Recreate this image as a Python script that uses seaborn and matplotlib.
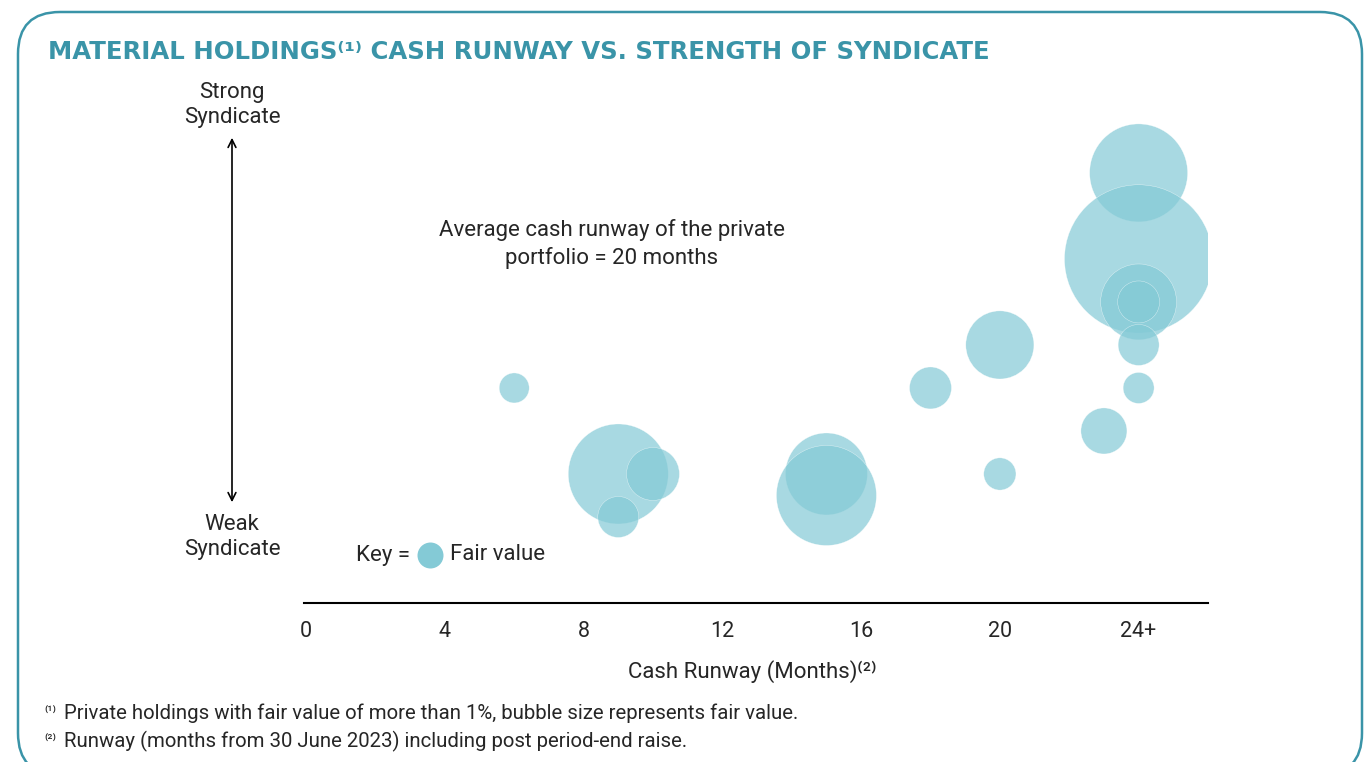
# Material holdings: cash runway vs strength of syndicate (bubble chart)
import pandas as pd
import matplotlib.pyplot as plt
import seaborn as sns
from matplotlib.patches import FancyArrowPatch, FancyBboxPatch
from matplotlib.transforms import IdentityTransform

# -------- DATA --------
runway_months = [24, 24, 24, 24, 24, 24, 23, 20, 18, 20, 6, 9, 10, 9, 15, 15]
syndicate_strength = [8, 6, 5, 5, 4, 3, 2, 4, 3, 1, 3, 1, 1, 0, 1, 0.5]
fair_value = [24, 55, 14.4, 4.4, 4.2, 2.4, 5.3, 11.6, 4.4, 2.6, 2.25, 25, 7.0, 4.2, 16.8, 25]

tick_values = [0, 4, 8, 12, 16, 20, 24]
tick_labels = ["0", "4", "8", "12", "16", "20", "24+"]

df = pd.DataFrame({
    "Runway": runway_months,
    "Syndicate": syndicate_strength,
    "Fair value": fair_value,
})

# -------- SETTINGS --------
sns.set_theme(style="white")
plt.rcParams["font.family"] = ["Roboto", "DejaVu Sans"]
TEAL = "#3a94a8"
BUBBLE = "#84cad6"
FS = 16

W, H = 1366, 762


def fx(px):
    return px / W


def fy(py):
    return 1 - py / H


fig = plt.figure(figsize=(W / 100, H / 100), dpi=100)
ax = fig.add_axes([fx(304), fy(603), (1208 - 304) / W, (603 - 80) / H])

# area in pt^2 proportional to fair value
k = 207.36
sns.scatterplot(
    data=df,
    x="Runway",
    y="Syndicate",
    size="Fair value",
    sizes=(k * min(fair_value), k * max(fair_value)),
    color=BUBBLE,
    alpha=0.7,
    edgecolor="white",
    linewidth=0.3,
    legend=False,
    ax=ax,
)

ax.set_xlim(-0.06, 26.0)
ax.set_ylim(-2.0, 10.16)
ax.set_xticks(tick_values)
ax.set_xticklabels(tick_labels, fontsize=15.5)
ax.tick_params(axis="x", length=0, pad=13)
ax.set_yticks([])
ax.set_xlabel("")
ax.set_ylabel("")
for s in ["top", "right", "left"]:
    ax.spines[s].set_visible(False)
ax.spines["bottom"].set_color("black")
ax.spines["bottom"].set_linewidth(1.5)

# -------- TEXT --------
fig.text(fx(48), fy(52), "MATERIAL HOLDINGS\u207d\u00b9\u207e CASH RUNWAY VS. STRENGTH OF SYNDICATE",
         fontsize=17.6, fontweight="bold", color=TEAL, family="DejaVu Sans",
         ha="left", va="center")

fig.text(fx(232), fy(105), "Strong\nSyndicate", fontsize=FS, ha="center", va="center",
         linespacing=1.25)
fig.text(fx(232), fy(537), "Weak\nSyndicate", fontsize=FS, ha="center", va="center",
         linespacing=1.25)
fig.add_artist(FancyArrowPatch((fx(232), fy(505)), (fx(232), fy(135)),
                               transform=fig.transFigure, arrowstyle="<->",
                               mutation_scale=14, lw=1.2, color="black"))

fig.text(fx(612), fy(244), "Average cash runway of the private\nportfolio = 20 months",
         fontsize=FS, ha="center", va="center", linespacing=1.4)

fig.text(fx(410), fy(555), "Key =", fontsize=FS, ha="right", va="center")
ax.scatter([fx(430)], [fy(555)], s=350, color=BUBBLE, transform=fig.transFigure,
           clip_on=False, linewidth=0)
fig.text(fx(450), fy(555), "Fair value", fontsize=FS, ha="left", va="center")

fig.text(fx(752), fy(672), "Cash Runway (Months)\u207d\u00b2\u207e", fontsize=FS,
         ha="center", va="center")

fig.text(fx(44), fy(712), "\u207d\u00b9\u207e", fontsize=10, ha="left", va="center")
fig.text(fx(64), fy(713), "Private holdings with fair value of more than 1%, bubble size represents fair value.",
         fontsize=14.7, ha="left", va="center")
fig.text(fx(44), fy(740), "\u207d\u00b2\u207e", fontsize=10, ha="left", va="center")
fig.text(fx(64), fy(741), "Runway (months from 30 June 2023) including post period-end raise.",
         fontsize=14.7, ha="left", va="center")

# -------- BORDER --------
fig.add_artist(FancyBboxPatch((18, H - 775), 1362 - 18, 775 - 12,
                              boxstyle="round,pad=0,rounding_size=42",
                              transform=IdentityTransform(), fill=False,
                              edgecolor=TEAL, linewidth=1.8))

fig.savefig("out.png", dpi=100)
